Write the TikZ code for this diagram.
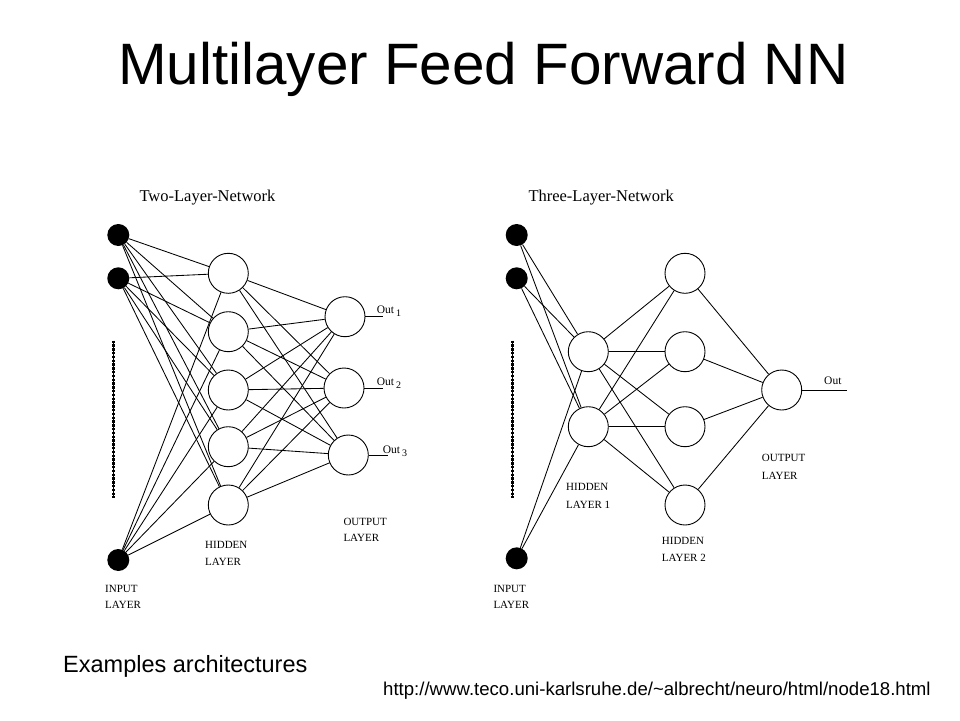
\documentclass[tikz,border=0pt]{standalone}
\usepackage{fontspec}
\setmainfont{Liberation Serif}
\newfontfamily\arialfont{Liberation Sans}
\begin{document}
\begin{tikzpicture}[x=1pt,y=-1pt,
  hid/.style={circle,draw=black,line width=0.9pt,fill=white,minimum size=40pt,inner sep=0pt},
  inp/.style={circle,fill=black,minimum size=22pt,inner sep=0pt},
  conn/.style={line width=0.85pt,black},
  dots/.style={line width=3pt,dash pattern=on 2.4pt off 1.4pt},
  lbl/.style={anchor=base west,inner sep=0pt,font=\fontsize{11}{13}\selectfont},
  ttl/.style={anchor=base west,inner sep=0pt,font=\fontsize{16.5}{19}\selectfont},
  outl/.style={anchor=base west,inner sep=0pt,font=\fontsize{11.5}{13}\selectfont}]
\useasboundingbox (0,0) rectangle (960,720);
\fill[white] (0,0) rectangle (960,720);

% Title and captions
\node[anchor=base west,inner sep=0pt,font=\arialfont\fontsize{58.4}{66}\selectfont] (title) at (118,84.3) {Multilayer Feed Forward NN};
\node[anchor=base west,inner sep=0pt,font=\arialfont\fontsize{23.5}{27}\selectfont] (ex) at (63,672.3) {Examples architectures};
\node[anchor=base west,inner sep=0pt,font=\arialfont\fontsize{18.6}{22}\selectfont] (url) at (383,695) {http://www.teco.uni-karlsruhe.de/\char`~albrecht/neuro/html/node18.html};

% ---------- Two-layer network ----------
\node[ttl] (t2) at (139.3,201.7) {Two-Layer-Network};
\node[inp] (a1) at (118.3,235) {};
\node[inp] (a2) at (118.3,278.3) {};
\node[inp] (a3) at (118.3,560) {};
\coordinate (ad1) at (113.3,340.5);
\coordinate (ad2) at (113.3,498.3);
\draw[line width=0.8pt] (ad1) -- (ad2);
\draw[dots] (ad1) -- (ad2);
\node[hid] (b1) at (228.3,273.3) {};
\node[hid] (b2) at (228.3,331.7) {};
\node[hid] (b3) at (228.3,390) {};
\node[hid] (b4) at (228.3,446.7) {};
\node[hid] (b5) at (228.3,505) {};
\node[hid] (c1) at (345,316.7) {};
\node[hid] (c2) at (344,388) {};
\node[hid] (c3) at (348.3,455) {};
\foreach \i in {1,2,3}{\foreach \j in {1,...,5}{\draw[conn] (a\i) -- (b\j);}}
\foreach \i in {1,...,5}{\foreach \j in {1,2,3}{\draw[conn] (b\i) -- (c\j);}}
\coordinate (co1) at (382.7,316.7);
\coordinate (co2) at (382.7,388);
\coordinate (co3) at (388.3,455);
\draw[conn] (c1) -- (co1);
\draw[conn] (c2) -- (co2);
\draw[conn] (c3) -- (co3);
\node[outl] (o1) at (376.7,313.3) {Out\,\raisebox{-3pt}{\fontsize{10}{12}\selectfont 1}};
\node[outl] (o2) at (376.7,385) {Out\,\raisebox{-3pt}{\fontsize{10}{12}\selectfont 2}};
\node[outl] (o3) at (382.7,453.3) {Out\,\raisebox{-3pt}{\fontsize{10}{12}\selectfont 3}};
\node[lbl] (l2i1) at (105,592.7) {INPUT};
\node[lbl] (l2i2) at (105,608.3) {LAYER};
\node[lbl] (l2h1) at (205,548.3) {HIDDEN};
\node[lbl] (l2h2) at (205,565) {LAYER};
\node[lbl] (l2o1) at (343.3,525) {OUTPUT};
\node[lbl] (l2o2) at (343.3,541.7) {LAYER};

% ---------- Three-layer network ----------
\node[ttl] (t3) at (528.3,201.7) {Three-Layer-Network};
\node[inp] (d1) at (516.7,235) {};
\node[inp] (d2) at (516.7,278.3) {};
\node[inp] (d3) at (516.7,558.3) {};
\coordinate (dd1) at (512.3,340.5);
\coordinate (dd2) at (512.3,498.3);
\draw[line width=0.8pt] (dd1) -- (dd2);
\draw[dots] (dd1) -- (dd2);
\node[hid] (e1) at (588.3,351.7) {};
\node[hid] (e2) at (588.3,426.7) {};
\node[hid] (f1) at (685,273.3) {};
\node[hid] (f2) at (685,351.7) {};
\node[hid] (f3) at (685,426.7) {};
\node[hid] (f4) at (685,505) {};
\node[hid] (g1) at (781.7,390) {};
\foreach \i in {1,2,3}{\foreach \j in {1,2}{\draw[conn] (d\i) -- (e\j);}}
\foreach \i in {1,2}{\foreach \j in {1,...,4}{\draw[conn] (e\i) -- (f\j);}}
\foreach \i in {1,...,4}{\draw[conn] (f\i) -- (g1);}
\coordinate (go) at (846.7,390);
\draw[conn] (g1) -- (go);
\node[outl] (o4) at (824,384) {Out};
\node[lbl] (l3i1) at (493.3,592.3) {INPUT};
\node[lbl] (l3i2) at (493.3,608.3) {LAYER};
\node[lbl] (l3h1) at (566,490) {HIDDEN};
\node[lbl] (l3h2) at (566,508.3) {LAYER 1};
\node[lbl] (l3k1) at (661.7,544) {HIDDEN};
\node[lbl] (l3k2) at (661.7,561) {LAYER 2};
\node[lbl] (l3o1) at (761.7,461.7) {OUTPUT};
\node[lbl] (l3o2) at (761.7,479) {LAYER};
\end{tikzpicture}
\end{document}
